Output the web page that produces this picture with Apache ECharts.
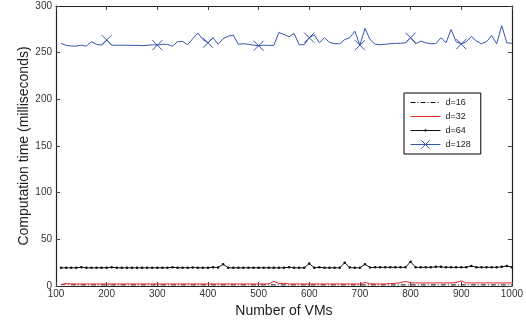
<!DOCTYPE html>
<html>
<head>
<meta charset="utf-8">
<script src="https://cdn.jsdelivr.net/npm/echarts@6/dist/echarts.min.js"></script>
<style>
  html, body { margin: 0; padding: 0; background: #fff; }
  #chart { width: 526px; height: 323px; }
</style>
</head>
<body>
<div id="chart"></div>
<script>
// number of VMs (x)
const vms = [
  110, 120, 130, 140, 150, 160, 170, 180, 190, 200,
  210, 220, 230, 240, 250, 260, 270, 280, 290, 300,
  310, 320, 330, 340, 350, 360, 370, 380, 390, 400,
  410, 420, 430, 440, 450, 460, 470, 480, 490, 500,
  510, 520, 530, 540, 550, 560, 570, 580, 590, 600,
  610, 620, 630, 640, 650, 660, 670, 680, 690, 700,
  710, 720, 730, 740, 750, 760, 770, 780, 790, 800,
  810, 820, 830, 840, 850, 860, 870, 880, 890, 900,
  910, 920, 930, 940, 950, 960, 970, 980, 990, 1000
];

const d16 = [
  1.2, 2.4, 1.4, 1.2, 1.2, 1.2, 1.2, 1.2, 1.2, 1.2,
  1.2, 1.2, 1.2, 1.2, 1.2, 1.2, 1.2, 1.2, 1.2, 1.2,
  1.2, 1.2, 1.2, 1.2, 1.2, 1.2, 1.2, 1.2, 1.2, 1.2,
  1.2, 1.2, 1.2, 1.2, 1.2, 1.2, 1.2, 1.2, 1.2, 1.2,
  1.2, 1.2, 1.2, 1.2, 1.2, 1.2, 1.2, 1.2, 1.2, 1.2,
  1.2, 1.2, 1.2, 1.2, 1.2, 1.2, 1.2, 1.2, 1.2, 1.2,
  1.2, 1.2, 1.2, 1.2, 1.2, 1.2, 1.2, 1.2, 1.2, 1.2,
  1.2, 1.2, 1.2, 1.2, 1.2, 1.2, 1.2, 1.2, 1.2, 1.2,
  1.2, 1.2, 1.2, 1.2, 1.2, 1.2, 1.2, 1.2, 1.2, 1.2
];

const d32 = [
  1.5, 2.6, 2.2, 2.2, 2.2, 2.2, 2.2, 2.2, 2.2, 2.2,
  2.2, 2.2, 2.2, 2.2, 2.2, 2.2, 2.2, 2.2, 2.2, 2.2,
  2.2, 2.2, 2.2, 2.2, 2.2, 2.2, 2.2, 2.2, 2.2, 2.2,
  2.2, 2.2, 2.2, 2.2, 2.2, 2.2, 2.2, 2.2, 2.2, 2.2,
  2.2, 2.2, 5.0, 2.6, 3.0, 2.2, 2.2, 2.2, 2.2, 2.2,
  2.2, 2.2, 2.2, 2.2, 2.2, 2.2, 2.2, 2.2, 2.2, 2.2,
  3.8, 2.4, 2.2, 2.2, 2.2, 2.6, 3.0, 3.5, 5.0, 3.3,
  3.3, 3.3, 3.3, 3.3, 3.3, 3.3, 3.3, 3.3, 3.6, 5.5,
  3.3, 3.3, 3.3, 3.3, 3.3, 3.3, 3.3, 3.3, 3.3, 3.3
];

const d64 = [
  19.5, 19.5, 19.5, 19.5, 20.0, 19.5, 19.5, 19.5, 19.5, 19.5,
  20.0, 19.5, 19.5, 19.5, 19.5, 19.5, 19.5, 19.5, 19.5, 19.5,
  19.5, 19.5, 20.0, 19.5, 19.5, 19.5, 19.8, 19.5, 19.5, 19.5,
  20.0, 19.8, 23.4, 19.5, 19.5, 19.5, 19.5, 19.5, 19.5, 19.5,
  19.5, 19.5, 19.5, 19.5, 19.5, 20.0, 19.5, 19.5, 19.5, 24.0,
  19.5, 20.0, 19.5, 19.5, 19.5, 19.5, 25.0, 19.8, 19.5, 19.5,
  23.4, 19.8, 20.0, 20.0, 20.0, 20.0, 20.0, 20.0, 20.0, 26.0,
  20.0, 20.0, 20.0, 20.0, 20.5, 20.5, 20.0, 20.0, 20.0, 20.0,
  20.0, 21.5, 20.0, 20.0, 20.0, 20.0, 20.0, 20.5, 21.5, 20.0
];

const d128 = [
  259.9, 257.8, 257.1, 257.0, 258.0, 257.0, 261.7, 259.0, 258.0, 263.5,
  258.0, 258.0, 258.0, 258.0, 257.8, 257.8, 257.5, 257.8, 258.5, 258.0,
  259.0, 259.0, 257.0, 261.7, 262.0, 258.5, 265.0, 271.0, 264.0, 260.6,
  266.0, 259.0, 265.0, 267.7, 268.8, 259.0, 259.6, 259.0, 258.0, 257.4,
  258.0, 257.8, 257.8, 271.6, 269.5, 267.0, 270.6, 258.5, 258.5, 266.0,
  269.0, 260.6, 266.0, 261.0, 259.6, 259.6, 264.0, 266.0, 273.0, 258.0,
  276.0, 264.0, 259.0, 258.5, 259.0, 259.6, 260.0, 260.0, 260.6, 266.0,
  259.6, 262.4, 260.6, 259.6, 259.6, 266.0, 260.6, 274.8, 261.7, 259.2,
  261.7, 267.4, 262.4, 259.6, 261.7, 268.4, 259.6, 279.0, 260.6, 260.0
];

// x markers on the d=128 curve
const markedVms = [200, 300, 400, 500, 600, 700, 800, 900];

const xTicks = [100, 200, 300, 400, 500, 600, 700, 800, 900, 1000];
const yTicks = [0, 50, 100, 150, 200, 250, 300];

const chart = echarts.init(document.getElementById('chart'));

const font = 'Liberation Sans, Arial, Helvetica, sans-serif';
const frame = '#222';
const blue = '#3556b0';
const crossPath = 'path://M0,0 L10,10 M10,0 L0,10';
// small dot inside a wider box, so the legend icon stays small
const dotPath = 'path://M0,0 L0.01,0 M12,12 L12.01,12 M4.3,6 A1.7,1.7 0 1,0 7.7,6 A1.7,1.7 0 1,0 4.3,6 Z';

const pairs = ys => vms.map((x, i) => [x, ys[i]]);

const blueData = vms.map((x, i) =>
  markedVms.includes(x) ? { value: [x, d128[i]] } : { value: [x, d128[i]], symbol: 'none' }
);

const baseX = {
  type: 'value',
  min: 100,
  max: 1000,
  interval: 100,
  splitLine: { show: false },
  axisLine: { show: true, onZero: false, lineStyle: { color: frame, width: 1.2 } },
  axisTick: { show: true, inside: true, length: 4, lineStyle: { color: '#444' } }
};
const baseY = {
  type: 'value',
  min: 0,
  max: 300,
  interval: 50,
  splitLine: { show: false },
  axisLine: { show: true, onZero: false, lineStyle: { color: frame, width: 1.2 } },
  axisTick: { show: true, inside: true, length: 4, lineStyle: { color: '#444' } }
};

const option = {
  animation: false,
  backgroundColor: '#fff',
  textStyle: { fontFamily: font },
  grid: { left: 56, right: 13, top: 6, bottom: 34 },
  legend: {
    orient: 'vertical',
    left: 404,
    top: 93,
    padding: [5, 10, 5, 6],
    itemGap: 5,
    itemWidth: 30,
    itemHeight: 10,
    borderColor: '#000',
    borderWidth: 1,
    backgroundColor: '#fff',
    lineStyle: { width: 1 },
    textStyle: { fontSize: 9, color: '#222', fontFamily: font },
    data: [
      { name: 'd=16', itemStyle: { opacity: 0 } },
      { name: 'd=32', itemStyle: { opacity: 0 } },
      { name: 'd=64' },
      { name: 'd=128', itemStyle: { color: 'rgba(0,0,0,0)', borderColor: blue, borderWidth: 1 } }
    ]
  },
  xAxis: [
    Object.assign({}, baseX, {
      position: 'bottom',
      name: 'Number of VMs',
      nameLocation: 'middle',
      nameGap: 18,
      nameTextStyle: { fontSize: 14, color: '#222', fontFamily: font },
      axisLabel: { fontSize: 10, color: '#333', margin: 3, fontFamily: font,
        formatter: v => xTicks.includes(v) ? String(v) : '' }
    }),
    Object.assign({}, baseX, { position: 'top', axisLabel: { show: false } })
  ],
  yAxis: [
    Object.assign({}, baseY, {
      position: 'left',
      name: 'Computation time (milliseconds)',
      nameLocation: 'middle',
      nameGap: 25,
      nameMoveOverlap: false,
      nameTextStyle: { fontSize: 14, color: '#222', fontFamily: font },
      axisLabel: { fontSize: 10, color: '#333', margin: 4, fontFamily: font,
        formatter: v => yTicks.includes(v) ? String(v) : '' }
    }),
    Object.assign({}, baseY, { position: 'right', axisLabel: { show: false } })
  ],
  series: [
    {
      name: 'd=16',
      type: 'line',
      data: pairs(d16),
      symbol: 'none',
      lineStyle: { color: '#111', width: 1, type: [5, 2, 1, 2] },
      itemStyle: { color: '#111' },
      z: 3
    },
    {
      name: 'd=32',
      type: 'line',
      data: pairs(d32),
      symbol: 'none',
      lineStyle: { color: '#e8242b', width: 1 },
      itemStyle: { color: '#e8242b' },
      z: 4
    },
    {
      name: 'd=64',
      type: 'line',
      data: pairs(d64),
      symbol: dotPath,
      symbolSize: 9,
      showAllSymbol: true,
      lineStyle: { color: '#111', width: 1 },
      itemStyle: { color: '#111' },
      z: 5
    },
    {
      name: 'd=128',
      type: 'line',
      data: blueData,
      symbol: crossPath,
      symbolSize: 10,
      showAllSymbol: true,
      lineStyle: { color: blue, width: 1 },
      itemStyle: { color: 'rgba(0,0,0,0)', borderColor: blue, borderWidth: 1 },
      z: 6
    }
  ]
};

chart.setOption(option);
</script>
</body>
</html>
